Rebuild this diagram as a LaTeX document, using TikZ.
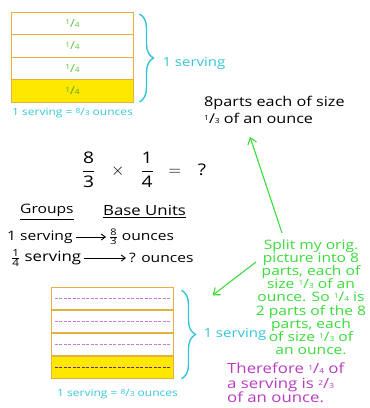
\documentclass[tikz,border=0pt]{standalone}
\usepackage{amsmath}
\usepackage{fontspec}
\setmainfont[FakeStretch=1.2]{Open Sans}
\usetikzlibrary{decorations.pathreplacing,arrows.meta}

\definecolor{marker}{HTML}{E6B040}
\definecolor{yolk}{HTML}{FFE800}
\definecolor{leaf}{HTML}{5CC43A}
\definecolor{aqua}{HTML}{33C6D8}
\definecolor{lime}{HTML}{3ADB3A}
\definecolor{plum}{HTML}{B83CC0}
\definecolor{lilac}{HTML}{CC77DD}

\newcommand{\slashfrac}[2]{\raisebox{.45ex}{\scriptsize #1}/{\scriptsize #2}}
\newcommand{\fsize}[2]{\fontsize{#1}{#2}\selectfont}

\begin{document}
\begin{tikzpicture}[x=1pt, y=-1pt,
    row/.style={draw=marker, line width=1pt, minimum width=122pt, minimum height=22.5pt, inner sep=0pt, outer sep=0pt, text=leaf, font=\fsize{11}{13}},
    servebrace/.style={draw=aqua, line width=1.4pt, decorate, decoration={brace, amplitude=14pt}},
    servelabel/.style={text=aqua, font=\fsize{12.5}{15}},
    caption/.style={text=aqua, font=\fsize{10}{12}, inner sep=0pt},
    ink/.style={font=\fsize{13}{15}, inner sep=1pt},
    pointer/.style={line width=0.9pt, -{Straight Barb[length=4pt,width=6pt]}, shorten <=2pt, shorten >=2pt},
    dashpurple/.style={draw=lilac, line width=0.7pt, dash pattern=on 3pt off 1.5pt},
    greenarrow/.style={draw=lime, line width=1.1pt, -{Straight Barb[length=6pt,width=9pt]}}]
    \useasboundingbox (0,0) rectangle (370,408);

    % top picture: one serving in fourths
    \node[row] (t1) at (72.5,23.25) {\slashfrac{1}{4}};
    \node[row] (t2) at (72.5,45.75) {\slashfrac{1}{4}};
    \node[row] (t3) at (72.5,68.25) {\slashfrac{1}{4}};
    \node[row, fill=yolk, text=leaf!85!black] (t4) at (72.5,90.75) {\slashfrac{1}{4}};
    \draw[servebrace] ([xshift=6pt,yshift=-2pt]t1.north east) -- ([xshift=6pt]t4.south east)
        node[midway, anchor=west, xshift=19pt, yshift=-5pt, servelabel] (tserv) {1 serving};
    \node[caption, anchor=north west] (tcap) at (12,108) {1 serving = \slashfrac{8}{3} ounces};

    \node[ink, anchor=north west, align=left, font=\fsize{13.5}{17}] (parts) at (203,95) {8parts each of size\\\slashfrac{1}{3} of an ounce};

    % the product
    \node[font=\fsize{16}{18}] (eq) at (144,170) {$\dfrac{\text{8}}{\text{3}}\hspace{12pt}\times\hspace{12pt}\dfrac{\text{1}}{\text{4}}\hspace{10pt}=\hspace{12pt}\text{?}$};

    % groups and base units
    \node[ink, anchor=west] (groups) at (19,212) {\underline{Groups}};
    \node[ink, anchor=west, font=\fsize{14}{16}] (units) at (102,212) {\underline{Base Units}};
    \node[ink, anchor=west] (g1) at (6,237) {1 serving};
    \node[ink, anchor=west] (u1) at (108,237) {$\tfrac{\text{8}}{\text{3}}$ ounces};
    \node[ink, anchor=west, font=\fsize{14}{16}] (g2) at (10,258) {$\tfrac{\text{1}}{\text{4}}$ serving};
    \node[ink, anchor=west] (u2) at (128,258) {? ounces};
    \draw[pointer] (g1) -- (u1);
    \draw[pointer] (g2) -- (u2);

    % bottom picture: each fourth split in two
    \node[row] (b1) at (112.5,298.5) {};
    \node[row] (b2) at (112.5,321.5) {};
    \node[row] (b3) at (112.5,344.5) {};
    \node[row, fill=yolk] (b4) at (112.5,367.5) {};
    \foreach \r in {b1,b2,b3}
        \draw[dashpurple] ([xshift=3pt]\r.west) -- ([xshift=-3pt]\r.east);
    \draw[dashpurple, draw=plum!60!black] ([xshift=3pt]b4.west) -- ([xshift=-3pt]b4.east);
    \draw[servebrace] ([xshift=8pt,yshift=-3pt]b1.north east) -- ([xshift=8pt]b4.south east)
        node[midway, anchor=west, xshift=18pt, servelabel] (bserv) {1 serving};
    \node[caption, anchor=north west] (bcap) at (57,389) {1 serving = \slashfrac{8}{3} ounces};

    % notes
    \node[anchor=north, align=center, text=lime, font=\fsize{13}{13.2}, inner sep=1pt] (split) at (311,238)
        {Split my orig.\\picture into 8\\parts, each of\\size \slashfrac{1}{3} of an\\ounce. So \slashfrac{1}{4} is\\2 parts of the 8\\parts, each\\of size \slashfrac{1}{3} of\\an ounce.};
    \node[anchor=north west, align=left, text=plum, font=\fsize{14}{14.5}, inner sep=1pt] (hence) at (226,362)
        {Therefore \slashfrac{1}{4} of\\a serving is \slashfrac{2}{3}\\of an ounce.};
    \draw[greenarrow] ([xshift=-29pt,yshift=5pt]split.north) -- ([xshift=47pt,yshift=-12pt]parts.south west);
    \draw[greenarrow] ([xshift=-55pt,yshift=-24pt]split.north) -- ([xshift=13pt,yshift=29pt]bserv.north west);
\end{tikzpicture}
\end{document}
